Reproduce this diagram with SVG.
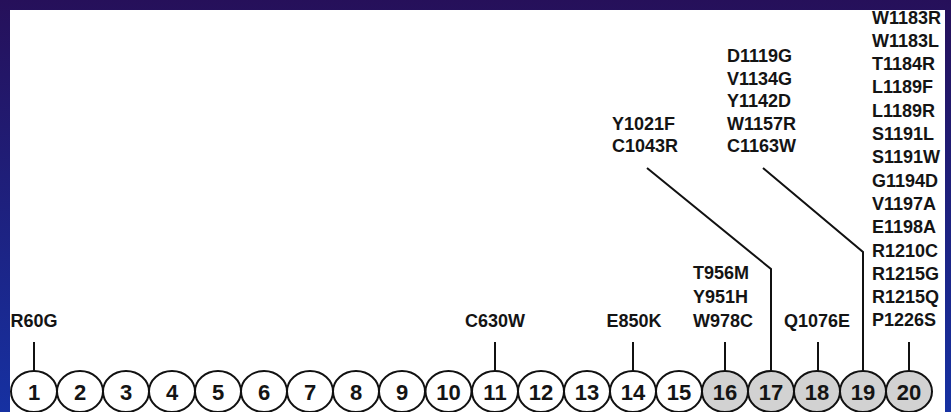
<svg xmlns="http://www.w3.org/2000/svg" width="951" height="412" viewBox="0 0 951 412">
<defs>
<linearGradient id="bg" x1="0" y1="0" x2="0" y2="1">
<stop offset="0" stop-color="#26105a"/>
<stop offset="1" stop-color="#1631a2"/>
</linearGradient>
</defs>
<style>
.lbl{font-family:"Liberation Sans",Arial,sans-serif;font-weight:bold;font-size:18px;fill:#141414}
.num{font-family:"Liberation Sans",Arial,sans-serif;font-weight:bold;font-size:22px;fill:#141414;text-anchor:middle}
.ex{fill:#ffffff;stroke:#111;stroke-width:2}
.ex.g{fill:#d2d2d2}
.ln{fill:none;stroke:#111;stroke-width:2}
</style>
<rect x="0" y="0" width="951" height="412" fill="url(#bg)"/>
<rect x="10" y="10" width="935" height="402" fill="#ffffff"/>
<g id="connectors">
<line class="ln" x1="34" y1="342" x2="34" y2="371"/>
<line class="ln" x1="495" y1="342" x2="495" y2="371"/>
<line class="ln" x1="633" y1="342" x2="633" y2="371"/>
<line class="ln" x1="725" y1="342" x2="725" y2="371"/>
<polyline class="ln" points="647,168 771,269 771,371"/>
<line class="ln" x1="818" y1="342" x2="818" y2="371"/>
<polyline class="ln" points="763,168 863,252 863,371"/>
<line class="ln" x1="909" y1="342" x2="909" y2="371"/>
</g>
<g id="labels">
<text class="lbl" x="34" y="327" text-anchor="middle">R60G</text>
<text class="lbl" x="495" y="327" text-anchor="middle">C630W</text>
<text class="lbl" x="634" y="327" text-anchor="middle">E850K</text>
<text class="lbl" x="693" y="279">T956M</text>
<text class="lbl" x="693" y="303">Y951H</text>
<text class="lbl" x="693" y="327">W978C</text>
<text class="lbl" x="817" y="327" text-anchor="middle">Q1076E</text>
<text class="lbl" x="612" y="130">Y1021F</text>
<text class="lbl" x="612" y="152">C1043R</text>
<text class="lbl" x="727" y="62">D1119G</text>
<text class="lbl" x="727" y="84.5">V1134G</text>
<text class="lbl" x="727" y="107">Y1142D</text>
<text class="lbl" x="727" y="129.5">W1157R</text>
<text class="lbl" x="727" y="152">C1163W</text>
<text class="lbl" x="872" y="23.5">W1183R</text>
<text class="lbl" x="872" y="46.8">W1183L</text>
<text class="lbl" x="872" y="70.1">T1184R</text>
<text class="lbl" x="872" y="93.4">L1189F</text>
<text class="lbl" x="872" y="116.7">L1189R</text>
<text class="lbl" x="872" y="140">S1191L</text>
<text class="lbl" x="872" y="163.3">S1191W</text>
<text class="lbl" x="872" y="186.6">G1194D</text>
<text class="lbl" x="872" y="209.9">V1197A</text>
<text class="lbl" x="872" y="233.2">E1198A</text>
<text class="lbl" x="872" y="256.5">R1210C</text>
<text class="lbl" x="872" y="279.8">R1215G</text>
<text class="lbl" x="872" y="303.1">R1215Q</text>
<text class="lbl" x="872" y="326.4">P1226S</text>
</g>
<g id="e1"><ellipse class="ex" cx="34" cy="391.5" rx="23" ry="20.5"/><text class="num" x="34" y="399.5">1</text></g>
<g id="e2"><ellipse class="ex" cx="80" cy="391.5" rx="23" ry="20.5"/><text class="num" x="80" y="399.5">2</text></g>
<g id="e3"><ellipse class="ex" cx="126" cy="391.5" rx="23" ry="20.5"/><text class="num" x="126" y="399.5">3</text></g>
<g id="e4"><ellipse class="ex" cx="172" cy="391.5" rx="23" ry="20.5"/><text class="num" x="172" y="399.5">4</text></g>
<g id="e5"><ellipse class="ex" cx="218" cy="391.5" rx="23" ry="20.5"/><text class="num" x="218" y="399.5">5</text></g>
<g id="e6"><ellipse class="ex" cx="264" cy="391.5" rx="23" ry="20.5"/><text class="num" x="264" y="399.5">6</text></g>
<g id="e7"><ellipse class="ex" cx="310" cy="391.5" rx="23" ry="20.5"/><text class="num" x="310" y="399.5">7</text></g>
<g id="e8"><ellipse class="ex" cx="356" cy="391.5" rx="23" ry="20.5"/><text class="num" x="356" y="399.5">8</text></g>
<g id="e9"><ellipse class="ex" cx="402" cy="391.5" rx="23" ry="20.5"/><text class="num" x="402" y="399.5">9</text></g>
<g id="e10"><ellipse class="ex" cx="448.5" cy="391.5" rx="23" ry="20.5"/><text class="num" x="448.5" y="399.5">10</text></g>
<g id="e11"><ellipse class="ex" cx="495" cy="391.5" rx="23" ry="20.5"/><text class="num" x="495" y="399.5">11</text></g>
<g id="e12"><ellipse class="ex" cx="541" cy="391.5" rx="23" ry="20.5"/><text class="num" x="541" y="399.5">12</text></g>
<g id="e13"><ellipse class="ex" cx="587" cy="391.5" rx="23" ry="20.5"/><text class="num" x="587" y="399.5">13</text></g>
<g id="e14"><ellipse class="ex" cx="633" cy="391.5" rx="23" ry="20.5"/><text class="num" x="633" y="399.5">14</text></g>
<g id="e15"><ellipse class="ex" cx="679" cy="391.5" rx="23" ry="20.5"/><text class="num" x="679" y="399.5">15</text></g>
<g id="e16"><ellipse class="ex g" cx="725" cy="391.5" rx="23" ry="20.5"/><text class="num" x="725" y="399.5">16</text></g>
<g id="e17"><ellipse class="ex g" cx="771" cy="391.5" rx="23" ry="20.5"/><text class="num" x="771" y="399.5">17</text></g>
<g id="e18"><ellipse class="ex g" cx="817" cy="391.5" rx="23" ry="20.5"/><text class="num" x="817" y="399.5">18</text></g>
<g id="e19"><ellipse class="ex g" cx="863" cy="391.5" rx="23" ry="20.5"/><text class="num" x="863" y="399.5">19</text></g>
<g id="e20"><ellipse class="ex g" cx="909" cy="391.5" rx="23" ry="20.5"/><text class="num" x="909" y="399.5">20</text></g>
</svg>
